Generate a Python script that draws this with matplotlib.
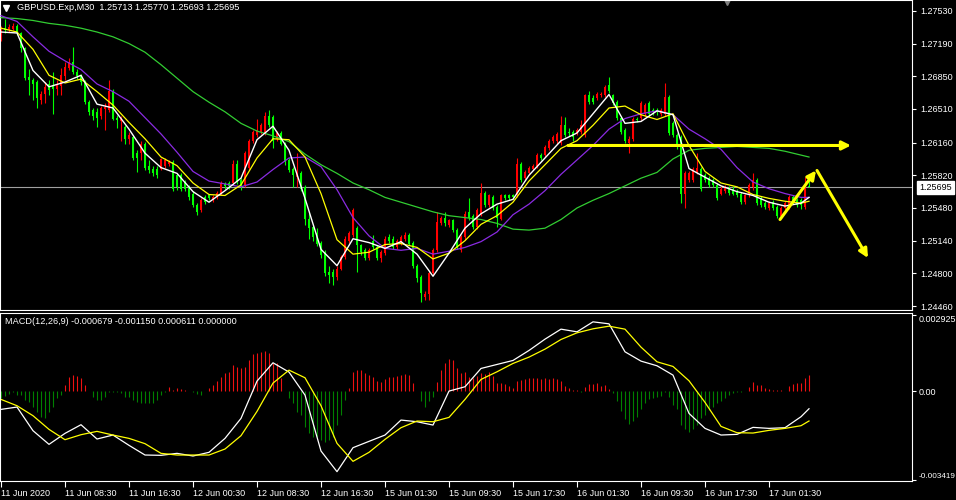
import numpy as np
import matplotlib.pyplot as plt

plt.rcParams['font.family'] = ['Liberation Sans', 'DejaVu Sans']

header = "GBPUSD.Exp,M30  1.25713 1.25770 1.25693 1.25695"
macd_header = "MACD(12,26,9) -0.000679 -0.001150 0.000611 0.000000"

# M30 candles, one per bar (bar 0 = 11 Jun 00:30)
opens = [
    1.2727, 1.2735, 1.2733, 1.2734, 1.2737, 1.2730, 1.2714, 1.2684, 1.2681, 1.2679,
    1.2660, 1.2667, 1.2677, 1.2676, 1.2672, 1.2675, 1.2685, 1.2694, 1.2700, 1.2689,
    1.2685, 1.2679, 1.2658, 1.2650, 1.2648, 1.2644, 1.2651, 1.2650, 1.2670, 1.2642,
    1.2638, 1.2632, 1.2620, 1.2622, 1.2605, 1.2605, 1.2615, 1.2592, 1.2589, 1.2589,
    1.2589, 1.2592, 1.2594, 1.2596, 1.2582, 1.2582, 1.2575, 1.2570, 1.2563, 1.2551,
    1.2546, 1.2559, 1.2561, 1.2556, 1.2559, 1.2563, 1.2573, 1.2574, 1.2574, 1.2594,
    1.2577, 1.2572, 1.2590, 1.2618, 1.2624, 1.2627, 1.2626, 1.2644, 1.2643, 1.2620,
    1.2626, 1.2615, 1.2598, 1.2589, 1.2580, 1.2584, 1.2570, 1.2537, 1.2528, 1.2522,
    1.2512, 1.2501, 1.2481, 1.2481, 1.2476, 1.2485, 1.2497, 1.2514, 1.2520, 1.2527,
    1.2509, 1.2504, 1.2496, 1.2514, 1.2507, 1.2496, 1.2501, 1.2518, 1.2516, 1.2507,
    1.2512, 1.2516, 1.2520, 1.2512, 1.2488, 1.2476, 1.2455, 1.2459, 1.2480, 1.2504,
    1.2532, 1.2538, 1.2530, 1.2535, 1.2525, 1.2504, 1.2518, 1.2544, 1.2540, 1.2528,
    1.2542, 1.2564, 1.2551, 1.2559, 1.2549, 1.2537, 1.2561, 1.2561, 1.2561, 1.2561,
    1.2594, 1.2579, 1.2584, 1.2589, 1.2592, 1.2603, 1.2603, 1.2610, 1.2618, 1.2618,
    1.2616, 1.2634, 1.2627, 1.2627, 1.2626, 1.2627, 1.2624, 1.2665, 1.2662, 1.2662,
    1.2665, 1.2665, 1.2676, 1.2665, 1.2658, 1.2642, 1.2629, 1.2616, 1.2620, 1.2641,
    1.2642, 1.2646, 1.2657, 1.2650, 1.2650, 1.2646, 1.2646, 1.2663, 1.2636, 1.2624,
    1.2622, 1.2563, 1.2577, 1.2577, 1.2585, 1.2589, 1.2582, 1.2579, 1.2577, 1.2572,
    1.2563, 1.2566, 1.2568, 1.2568, 1.2566, 1.2563, 1.2554, 1.2561, 1.2570, 1.2577,
    1.2558, 1.2553, 1.2548, 1.2554, 1.2549, 1.2540, 1.2548, 1.2549, 1.2559, 1.2556,
    1.2556, 1.2549, 1.25713]
highs = [
    1.2737, 1.2745, 1.2739, 1.2740, 1.2739, 1.2731, 1.2715, 1.2693, 1.2683, 1.2681,
    1.2670, 1.2679, 1.2681, 1.2689, 1.2681, 1.2694, 1.2700, 1.2704, 1.2715, 1.2693,
    1.2687, 1.2681, 1.2660, 1.2652, 1.2652, 1.2654, 1.2657, 1.2681, 1.2672, 1.2645,
    1.2644, 1.2634, 1.2627, 1.2624, 1.2608, 1.2618, 1.2617, 1.2598, 1.2592, 1.2592,
    1.2600, 1.2600, 1.2598, 1.2598, 1.2584, 1.2584, 1.2577, 1.2572, 1.2566, 1.2553,
    1.2558, 1.2561, 1.2563, 1.2561, 1.2566, 1.2576, 1.2575, 1.2576, 1.2598, 1.2598,
    1.2579, 1.2607, 1.2620, 1.2629, 1.2641, 1.2636, 1.2648, 1.2650, 1.2645, 1.2628,
    1.2628, 1.2617, 1.2600, 1.2591, 1.2605, 1.2586, 1.2572, 1.2544, 1.2530, 1.2527,
    1.2514, 1.2504, 1.2488, 1.2485, 1.2488, 1.2499, 1.2519, 1.2524, 1.2548, 1.2529,
    1.2511, 1.2506, 1.2506, 1.2520, 1.2509, 1.2504, 1.2519, 1.2521, 1.2519, 1.2516,
    1.2520, 1.2523, 1.2522, 1.2514, 1.2490, 1.2478, 1.2462, 1.2482, 1.2506, 1.2544,
    1.2540, 1.2544, 1.2537, 1.2537, 1.2527, 1.2520, 1.2545, 1.2558, 1.2542, 1.2548,
    1.2574, 1.2566, 1.2563, 1.2561, 1.2551, 1.2563, 1.2563, 1.2563, 1.2563, 1.2600,
    1.2596, 1.2587, 1.2592, 1.2594, 1.2605, 1.2605, 1.2613, 1.2620, 1.2624, 1.2627,
    1.2644, 1.2643, 1.2631, 1.2629, 1.2631, 1.2639, 1.2667, 1.2670, 1.2665, 1.2669,
    1.2669, 1.2676, 1.2684, 1.2667, 1.2660, 1.2644, 1.2631, 1.2623, 1.2643, 1.2643,
    1.2659, 1.2657, 1.2659, 1.2652, 1.2652, 1.2652, 1.2678, 1.2665, 1.2638, 1.2626,
    1.2624, 1.2586, 1.2586, 1.2591, 1.2605, 1.2591, 1.2584, 1.2581, 1.2579, 1.2574,
    1.2571, 1.2572, 1.2571, 1.2571, 1.2568, 1.2565, 1.2563, 1.2574, 1.2584, 1.2579,
    1.2560, 1.2555, 1.2555, 1.2556, 1.2551, 1.2550, 1.2555, 1.2561, 1.2561, 1.2558,
    1.2558, 1.2580, 1.25770]
lows = [
    1.2722, 1.2730, 1.2731, 1.2733, 1.2728, 1.2710, 1.2681, 1.2665, 1.2660, 1.2652,
    1.2656, 1.2657, 1.2665, 1.2646, 1.2665, 1.2665, 1.2681, 1.2692, 1.2687, 1.2682,
    1.2676, 1.2656, 1.2645, 1.2639, 1.2632, 1.2641, 1.2629, 1.2648, 1.2639, 1.2631,
    1.2618, 1.2615, 1.2615, 1.2598, 1.2585, 1.2598, 1.2587, 1.2584, 1.2581, 1.2579,
    1.2587, 1.2590, 1.2592, 1.2566, 1.2567, 1.2566, 1.2566, 1.2556, 1.2549, 1.2541,
    1.2544, 1.2552, 1.2556, 1.2554, 1.2557, 1.2561, 1.2568, 1.2568, 1.2572, 1.2573,
    1.2567, 1.2570, 1.2588, 1.2616, 1.2622, 1.2625, 1.2624, 1.2632, 1.2610, 1.2618,
    1.2613, 1.2593, 1.2585, 1.2570, 1.2570, 1.2566, 1.2530, 1.2516, 1.2514, 1.2508,
    1.2496, 1.2477, 1.2470, 1.2468, 1.2473, 1.2483, 1.2495, 1.2512, 1.2518, 1.2481,
    1.2499, 1.2494, 1.2494, 1.2505, 1.2494, 1.2492, 1.2499, 1.2512, 1.2505, 1.2505,
    1.2510, 1.2514, 1.2509, 1.2486, 1.2471, 1.2450, 1.2452, 1.2452, 1.2478, 1.2502,
    1.2530, 1.2529, 1.2528, 1.2523, 1.2505, 1.2502, 1.2515, 1.2536, 1.2526, 1.2526,
    1.2540, 1.2549, 1.2549, 1.2546, 1.2528, 1.2535, 1.2556, 1.2556, 1.2557, 1.2559,
    1.2575, 1.2577, 1.2582, 1.2587, 1.2590, 1.2598, 1.2601, 1.2608, 1.2616, 1.2615,
    1.2614, 1.2622, 1.2623, 1.2618, 1.2624, 1.2625, 1.2622, 1.2656, 1.2656, 1.2660,
    1.2663, 1.2663, 1.2668, 1.2655, 1.2640, 1.2625, 1.2616, 1.2605, 1.2618, 1.2637,
    1.2640, 1.2644, 1.2644, 1.2645, 1.2645, 1.2644, 1.2644, 1.2624, 1.2622, 1.2609,
    1.2553, 1.2548, 1.2575, 1.2575, 1.2583, 1.2566, 1.2575, 1.2570, 1.2570, 1.2556,
    1.2561, 1.2564, 1.2562, 1.2561, 1.2559, 1.2552, 1.2552, 1.2559, 1.2567, 1.2551,
    1.2549, 1.2547, 1.2546, 1.2546, 1.2538, 1.2538, 1.2546, 1.2547, 1.2552, 1.2549,
    1.2547, 1.2547, 1.25693]
closes = [
    1.2734, 1.2733, 1.2736, 1.2737, 1.2730, 1.2714, 1.2683, 1.2681, 1.2677, 1.2662,
    1.2667, 1.2674, 1.2671, 1.2672, 1.2677, 1.2686, 1.2695, 1.2700, 1.2689, 1.2685,
    1.2679, 1.2658, 1.2648, 1.2644, 1.2642, 1.2652, 1.2653, 1.2670, 1.2641, 1.2639,
    1.2641, 1.2620, 1.2624, 1.2600, 1.2600, 1.2615, 1.2590, 1.2587, 1.2584, 1.2582,
    1.2599, 1.2598, 1.2596, 1.2568, 1.2570, 1.2568, 1.2568, 1.2559, 1.2551, 1.2544,
    1.2556, 1.2554, 1.2558, 1.2559, 1.2564, 1.2574, 1.2571, 1.2571, 1.2594, 1.2575,
    1.2570, 1.2605, 1.2618, 1.2627, 1.2629, 1.2634, 1.2644, 1.2634, 1.2618, 1.2626,
    1.2615, 1.2596, 1.2587, 1.2582, 1.2584, 1.2568, 1.2537, 1.2527, 1.2518, 1.2511,
    1.2499, 1.2480, 1.2478, 1.2476, 1.2485, 1.2497, 1.2516, 1.2522, 1.2546, 1.2509,
    1.2502, 1.2496, 1.2504, 1.2507, 1.2496, 1.2502, 1.2516, 1.2514, 1.2507, 1.2514,
    1.2518, 1.2520, 1.2511, 1.2488, 1.2475, 1.2460, 1.2459, 1.2480, 1.2504, 1.2533,
    1.2538, 1.2532, 1.2535, 1.2525, 1.2507, 1.2518, 1.2542, 1.2538, 1.2528, 1.2546,
    1.2564, 1.2551, 1.2561, 1.2548, 1.2538, 1.2561, 1.2558, 1.2558, 1.2559, 1.2594,
    1.2577, 1.2585, 1.2590, 1.2592, 1.2603, 1.2600, 1.2611, 1.2618, 1.2622, 1.2625,
    1.2634, 1.2624, 1.2626, 1.2622, 1.2629, 1.2634, 1.2665, 1.2658, 1.2658, 1.2667,
    1.2667, 1.2674, 1.2670, 1.2657, 1.2642, 1.2627, 1.2618, 1.2620, 1.2641, 1.2639,
    1.2657, 1.2655, 1.2646, 1.2648, 1.2648, 1.2650, 1.2663, 1.2626, 1.2624, 1.2611,
    1.2563, 1.2584, 1.2584, 1.2589, 1.2590, 1.2568, 1.2577, 1.2572, 1.2572, 1.2558,
    1.2568, 1.2570, 1.2564, 1.2563, 1.2561, 1.2554, 1.2561, 1.2572, 1.2577, 1.2553,
    1.2551, 1.2549, 1.2553, 1.2548, 1.2540, 1.2548, 1.2553, 1.2559, 1.2554, 1.2551,
    1.2551, 1.25713, 1.25695]

# moving averages read every 4 bars
ma_bars = list(range(0, 201, 4)) + [202]
ma_white = [
    1.2731, 1.2730, 1.2691, 1.2674, 1.2679, 1.2686, 1.2656, 1.2652, 1.2630, 1.2605,
    1.2590, 1.2584, 1.2565, 1.2554, 1.2566, 1.2579, 1.2619, 1.2633, 1.2608, 1.2558,
    1.2505, 1.2488, 1.2516, 1.2512, 1.2506, 1.2513, 1.2500, 1.2477, 1.2501, 1.2527,
    1.2542, 1.2552, 1.2557, 1.2582, 1.2600, 1.2618, 1.2626, 1.2646, 1.2666, 1.2636,
    1.2638, 1.2649, 1.2645, 1.2589, 1.2580, 1.2571, 1.2565, 1.2561, 1.2554, 1.2550,
    1.2553, 1.2559]
ma_yellow = [
    1.2735, 1.2731, 1.2713, 1.2686, 1.2678, 1.2682, 1.2669, 1.2655, 1.2637, 1.2620,
    1.2601, 1.2592, 1.2574, 1.2562, 1.2561, 1.2572, 1.2600, 1.2620, 1.2619, 1.2601,
    1.2563, 1.2515, 1.2500, 1.2502, 1.2510, 1.2511, 1.2507, 1.2495, 1.2501, 1.2514,
    1.2531, 1.2540, 1.2554, 1.2576, 1.2593, 1.2610, 1.2618, 1.2634, 1.2652, 1.2654,
    1.2645, 1.2640, 1.2646, 1.2613, 1.2586, 1.2574, 1.2570, 1.2562, 1.2558, 1.2555,
    1.2553, 1.2555]
ma_purple = [
    1.2748, 1.2742, 1.2726, 1.2711, 1.2701, 1.2692, 1.2677, 1.2669, 1.2659, 1.2642,
    1.2625, 1.2606, 1.2586, 1.2576, 1.2573, 1.2570, 1.2575, 1.2588, 1.2600, 1.2601,
    1.2591, 1.2567, 1.2538, 1.2519, 1.2506, 1.2504, 1.2506, 1.2500, 1.2503, 1.2507,
    1.2513, 1.2523, 1.2541, 1.2552, 1.2566, 1.2583, 1.2598, 1.2613, 1.2630, 1.2641,
    1.2646, 1.2649, 1.2645, 1.2630, 1.2620, 1.2609, 1.2590, 1.2575, 1.2568, 1.2563,
    1.2559, 1.2559]
ma_green = [
    1.2746, 1.2745, 1.2743, 1.2740, 1.2738, 1.2735, 1.2731, 1.2726, 1.2719, 1.2710,
    1.2697, 1.2683, 1.2669, 1.2658, 1.2648, 1.2636, 1.2628, 1.2623, 1.2617, 1.2604,
    1.2593, 1.2584, 1.2574, 1.2567, 1.2559, 1.2554, 1.2549, 1.2544, 1.2540, 1.2538,
    1.2536, 1.2532, 1.2526, 1.2525, 1.2527, 1.2536, 1.2548, 1.2556, 1.2563, 1.2571,
    1.2579, 1.2585, 1.2599, 1.2608, 1.2610, 1.2611, 1.2612, 1.2611, 1.2610, 1.2607,
    1.2603, 1.2601]

# MACD(12,26,9)
macd_hist = [
    -0.000282, -0.000192, -0.000102, -0.000051, -0.000154, -0.000154, -0.000346, -0.00041, -0.000602, -0.000794,
    -0.000986, -0.00105, -0.000794, -0.000602, -0.000282, -0.000154, 0.00023, 0.00055, 0.000614, 0.000576,
    0.000512, 0.00023, 0.0, -0.000218, -0.000346, -0.000346, -0.000218, -0.000051, -0.000026, -0.000026,
    -0.00009, -0.000218, -0.000218, -0.000346, -0.00041, -0.000474, -0.000474, -0.000474, -0.000474, -0.000346,
    -0.000154, -0.000026, 0.000166, 0.000038, 0.000102, 0.000077, 0.000038, 0.0, -0.000051, -0.000128,
    -0.000154, 0.0, 0.000128, 0.00023, 0.000384, 0.00055, 0.000678, 0.000717, 0.000998, 0.000934,
    0.00087, 0.000934, 0.00119, 0.001408, 0.001446, 0.00151, 0.001536, 0.001446, 0.001062, 0.001062,
    0.000486, 0.0, -0.000282, -0.000474, -0.000794, -0.000922, -0.00137, -0.001626, -0.001754, -0.001754,
    -0.001882, -0.001946, -0.001882, -0.001754, -0.001306, -0.000922, -0.000346, 0.000128, 0.000742, 0.000806,
    0.000806, 0.000678, 0.000614, 0.00055, 0.000384, 0.000358, 0.000461, 0.00055, 0.00055, 0.000576,
    0.000614, 0.00064, 0.000614, 0.000294, 0.0, -0.000384, -0.000602, -0.000384, -0.000218, 0.000358,
    0.000806, 0.001062, 0.001216, 0.00119, 0.00087, 0.000678, 0.000742, 0.00055, 0.000486, 0.000589,
    0.000678, 0.00064, 0.000742, 0.000589, 0.000294, 0.000294, 0.000256, 0.000205, 0.000128, 0.000384,
    0.000422, 0.000461, 0.000486, 0.000512, 0.000486, 0.000461, 0.000486, 0.000461, 0.000512, 0.000461,
    0.000384, 0.000205, 0.000128, 0.000026, 0.000026, -0.000051, 0.000166, 0.000256, 0.000269, 0.000294,
    0.000192, 0.00023, 0.000077, -0.00009, -0.000384, -0.000768, -0.001075, -0.001267, -0.001152, -0.000986,
    -0.000691, -0.000474, -0.000307, -0.000256, -0.000218, -0.000179, -0.000051, -0.000218, -0.000538, -0.000691,
    -0.001306, -0.001459, -0.001562, -0.001459, -0.001306, -0.001024, -0.000922, -0.00073, -0.000602, -0.000474,
    -0.000384, -0.000256, -0.000154, -0.00009, -0.000051, -0.000051, 0.0, 0.000166, 0.000333, 0.00023,
    0.00023, 0.000102, 0.000077, 0.000026, 0.000026, 0.000026, 0.0, 0.000192, 0.000256, 0.000307,
    0.00032, 0.000486, 0.000611]
macd_main = [
    -0.000704, -0.000614, -0.001523, -0.002048, -0.001626, -0.001293, -0.001843, -0.00169, -0.002086, -0.002458,
    -0.00247, -0.002394, -0.002496, -0.002355, -0.001818, -0.00105, 0.000384, 0.001088, 0.00073, -0.000154,
    -0.002304, -0.003098, -0.002176, -0.001933, -0.00169, -0.001114, -0.001178, -0.001306, 0.0, 0.000166,
    0.00087, 0.001024, 0.001178, 0.001562, 0.001997, 0.002381, 0.002278, 0.002662, 0.002586, 0.00151,
    0.001152, 0.000973, 0.000614, -0.000858, -0.001434, -0.00169, -0.001664, -0.001395, -0.001434, -0.001408,
    -0.000986, -0.000679]
macd_signal = [
    -0.00032, -0.000563, -0.000947, -0.001472, -0.001869, -0.001677, -0.001549, -0.00169, -0.001818, -0.002022,
    -0.002394, -0.002458, -0.002458, -0.002458, -0.002227, -0.001715, -0.000781, 0.000307, 0.000806, 0.000512,
    -0.000563, -0.00201, -0.002701, -0.002355, -0.001856, -0.001408, -0.001152, -0.001178, -0.001011, -0.00032,
    0.000448, 0.000742, 0.001062, 0.001306, 0.001613, 0.001984, 0.00224, 0.002394, 0.002496, 0.002381,
    0.00169, 0.001126, 0.000947, 0.000397, -0.000435, -0.001357, -0.0016, -0.001613, -0.00151, -0.001434,
    -0.001331, -0.00115]

price_ticks = [1.27530, 1.27190, 1.26850, 1.26510, 1.26160, 1.25820, 1.25480, 1.25140, 1.24800, 1.24460]
macd_ticks = [0.002925, 0.0, -0.003419]
macd_tick_labels = ["0.002925", "0.00", "-0.003419"]
time_ticks = list(range(0, 193, 16))
time_labels = ["11 Jun 2020", "11 Jun 08:30", "11 Jun 16:30", "12 Jun 00:30", "12 Jun 08:30",
               "12 Jun 16:30", "15 Jun 01:30", "15 Jun 09:30", "15 Jun 17:30", "16 Jun 01:30",
               "16 Jun 09:30", "16 Jun 17:30", "17 Jun 01:30"]

W, H = 956, 500
fig = plt.figure(figsize=(W / 100, H / 100), dpi=100, facecolor='black')


def box(x0, y0, x1, y1):
    return [x0 / W, 1 - y1 / H, (x1 - x0) / W, (y1 - y0) / H]


ax = fig.add_axes(box(0, 0, 912, 310))
axm = fig.add_axes(box(0, 313, 912, 481))
for a in (ax, axm):
    a.set_facecolor('black')
    for s in a.spines.values():
        s.set_color('white')
        s.set_linewidth(0.8)
    a.set_xlim(-0.25, 227.75)

# candles
x = np.arange(len(closes))
o = np.array(opens)
c = np.array(closes)
up = c >= o
cols = np.where(up, '#ff0000', '#00ff00')
ax.axhline(closes[-1], color='#a0a0a0', lw=0.8, zorder=0.5)
ax.vlines(x, lows, highs, colors=cols, lw=0.8, zorder=1)
body = np.maximum(np.abs(c - o), 0.00004)
ax.bar(x, body, bottom=np.minimum(o, c), width=0.72, color=cols, linewidth=0, zorder=2)

ax.plot(ma_bars, ma_green, color='#32cd32', lw=0.9, zorder=3)
ax.plot(ma_bars, ma_purple, color='#8a2be2', lw=0.9, zorder=3)
ax.plot(ma_bars, ma_yellow, color='#ffff00', lw=0.9, zorder=3)
ax.plot(ma_bars, ma_white, color='white', lw=1.0, zorder=3)

ax.set_ylim(1.24419, 1.27643)
ax.set_xticks([])
ax.yaxis.tick_right()
ax.set_yticks(price_ticks)
ax.set_yticklabels([f"{p:.5f}" for p in price_ticks])
ax.tick_params(axis='y', colors='white', length=3, width=0.8, pad=3, labelsize=6.5)

# current price box
ax.annotate(f"{closes[-1]:.5f}", xy=(1 + 7 / 912, closes[-1]), xycoords=('axes fraction', 'data'),
            color='black', fontsize=6.5, va='center', ha='left', annotation_clip=False,
            bbox=dict(boxstyle='square,pad=0.25', facecolor='white', edgecolor='white'))

# hand-drawn arrows
arrow = dict(arrowstyle='-|>', color='#ffff00', lw=2.2, mutation_scale=13, shrinkA=0, shrinkB=0)
ax.annotate('', xy=(212.5, 1.2613), xytext=(141.75, 1.2613), arrowprops=arrow, zorder=5)
ax.annotate('', xy=(203.75, 1.2587), xytext=(194.75, 1.2536), arrowprops=arrow, zorder=5)
ax.annotate('', xy=(216.75, 1.2496), xytext=(204.0, 1.2587), arrowprops=arrow, zorder=5)

fig.text(17 / W, 1 - 8 / H, header, color='white', fontsize=6.6, va='center', ha='left')
ax.plot([6 / 912], [1 - 8 / 310], marker='v', color='white', ms=4, transform=ax.transAxes, clip_on=False)
ax.plot([727 / 912], [1 - 2 / 310], marker='v', color='#808080', ms=5, transform=ax.transAxes, clip_on=False)

# MACD window
hcols = ['#ee1111' if v >= 0 else '#008000' for v in macd_hist]
axm.vlines(x, 0, macd_hist, colors=hcols, lw=0.8)
axm.plot(ma_bars, macd_main, color='white', lw=0.9)
axm.plot(ma_bars, macd_signal, color='#ffff00', lw=0.9)
axm.set_ylim(-0.003457, 0.003002)
axm.yaxis.tick_right()
axm.set_yticks(macd_ticks)
axm.set_yticklabels(macd_tick_labels)
axm.tick_params(axis='y', colors='white', length=3, width=0.8, pad=2, labelsize=6.5)
labs = axm.get_yticklabels()
labs[0].set_va('top')
labs[2].set_va('bottom')
labs[2].set_fontsize(5.9)
axm.set_xticks(time_ticks)
axm.set_xticklabels(time_labels, ha='left')
axm.tick_params(axis='x', colors='white', length=4, width=0.8, pad=2, labelsize=6.5)
fig.text(5 / W, 1 - 322 / H, macd_header, color='white', fontsize=6.6, va='center', ha='left')

fig.savefig('out.png', dpi=100, facecolor='black')
